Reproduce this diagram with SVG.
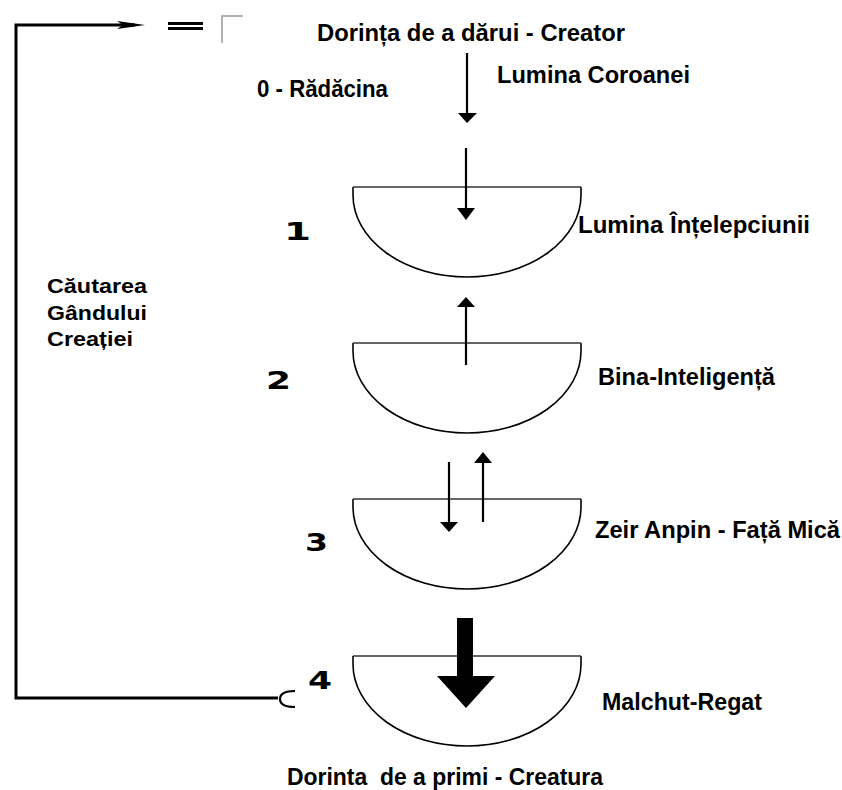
<svg xmlns="http://www.w3.org/2000/svg" width="842" height="790" viewBox="0 0 842 790">
<style>
.t{font-family:"Liberation Sans",Arial,sans-serif;font-weight:bold;font-size:23.5px;fill:#000}
.s{font-size:21px}
.n{font-family:"DejaVu Sans",sans-serif;font-weight:bold;font-size:24px;fill:#000}
.bowl{fill:#fff;stroke:#000;stroke-width:1.6}
.chord{stroke:#333;stroke-width:1.5}
.ar{stroke:#000;stroke-width:2.2;fill:none}
.hd{fill:#000}
</style>
<defs>
<path id="bowlShape" d="M353,0 L353,8 A114 82 0 0 0 581,8 L581,0"/>
</defs>
<rect width="842" height="790" fill="#fff"/>

<g id="header">
<rect x="168" y="22" width="35" height="3" fill="#000"/>
<rect x="168" y="27" width="35" height="3" fill="#000"/>
<path d="M222,43 L222,16 L243,16" fill="none" stroke="#999" stroke-width="1.5"/>
<text class="t" x="317" y="41" textLength="308" lengthAdjust="spacingAndGlyphs">Dorința de a dărui - Creator</text>
</g>

<g id="root">
<text class="t" x="257" y="97" textLength="131" lengthAdjust="spacingAndGlyphs">0 - Rădăcina</text>
<text class="t" x="497" y="83" textLength="193" lengthAdjust="spacingAndGlyphs">Lumina Coroanei</text>
</g>

<g id="node1">
<g transform="translate(0,187)">
<use href="#bowlShape" class="bowl"/>
<line class="chord" x1="353" y1="0" x2="581" y2="0"/>
</g>
<text class="n" x="284" y="240" textLength="27" lengthAdjust="spacingAndGlyphs">1</text>
<text class="t" x="578" y="233" textLength="232" lengthAdjust="spacingAndGlyphs">Lumina Înțelepciunii</text>
</g>

<g id="node2">
<g transform="translate(0,343)">
<use href="#bowlShape" class="bowl"/>
<line class="chord" x1="353" y1="0" x2="581" y2="0"/>
</g>
<text class="n" x="266" y="389" textLength="25" lengthAdjust="spacingAndGlyphs">2</text>
<text class="t" x="598" y="385" textLength="177" lengthAdjust="spacingAndGlyphs">Bina-Inteligență</text>
</g>

<g id="node3">
<g transform="translate(0,499)">
<use href="#bowlShape" class="bowl"/>
<line class="chord" x1="353" y1="0" x2="581" y2="0"/>
</g>
<text class="n" x="305" y="551" textLength="23" lengthAdjust="spacingAndGlyphs">3</text>
<text class="t" x="595" y="538" textLength="245" lengthAdjust="spacingAndGlyphs">Zeir Anpin - Față Mică</text>
</g>

<g id="node4">
<g transform="translate(0,656)">
<use href="#bowlShape" class="bowl"/>
<line class="chord" x1="353" y1="0" x2="581" y2="0"/>
</g>
<text class="n" x="308" y="689" textLength="24" lengthAdjust="spacingAndGlyphs">4</text>
<text class="t" x="602" y="710" textLength="160" lengthAdjust="spacingAndGlyphs">Malchut-Regat</text>
</g>

<g id="footer">
<text class="t" x="287" y="785" textLength="316" lengthAdjust="spacingAndGlyphs" xml:space="preserve">Dorinta  de a primi - Creatura</text>
</g>

<g id="sideLabel">
<text class="t s" x="47" y="293" textLength="100" lengthAdjust="spacingAndGlyphs">Căutarea</text>
<text class="t s" x="47" y="320" textLength="100" lengthAdjust="spacingAndGlyphs">Gândului</text>
<text class="t s" x="47" y="346" textLength="86" lengthAdjust="spacingAndGlyphs">Creației</text>
</g>

<g id="connectors">
<path d="M278,698 L16,698 L16,25 L135,25" fill="none" stroke="#000" stroke-width="3"/>
<path d="M117,21 L145,25 L117,29 L123,25 Z" class="hd"/>
<path d="M295,691 Q280,691 280,699 Q280,707 295,707" fill="none" stroke="#000" stroke-width="2.2"/>
<line class="ar" x1="467" y1="53" x2="467" y2="114"/>
<path d="M458,113 L477,113 L467,123 Z" class="hd"/>
<line class="ar" x1="466" y1="148" x2="466" y2="209"/>
<path d="M457,208 L475,208 L466,220 Z" class="hd"/>
<line class="ar" x1="466" y1="305" x2="466" y2="365"/>
<path d="M457,307 L475,307 L466,297 Z" class="hd"/>
<line class="ar" x1="449" y1="462" x2="449" y2="523"/>
<path d="M440,522 L458,522 L449,532 Z" class="hd"/>
<line class="ar" x1="483" y1="461" x2="483" y2="522"/>
<path d="M474,463 L492,463 L483,452 Z" class="hd"/>
<rect x="457" y="618" width="16" height="59" fill="#000"/>
<path d="M437,676 L495,676 L466,708 Z" class="hd"/>
</g>
</svg>
